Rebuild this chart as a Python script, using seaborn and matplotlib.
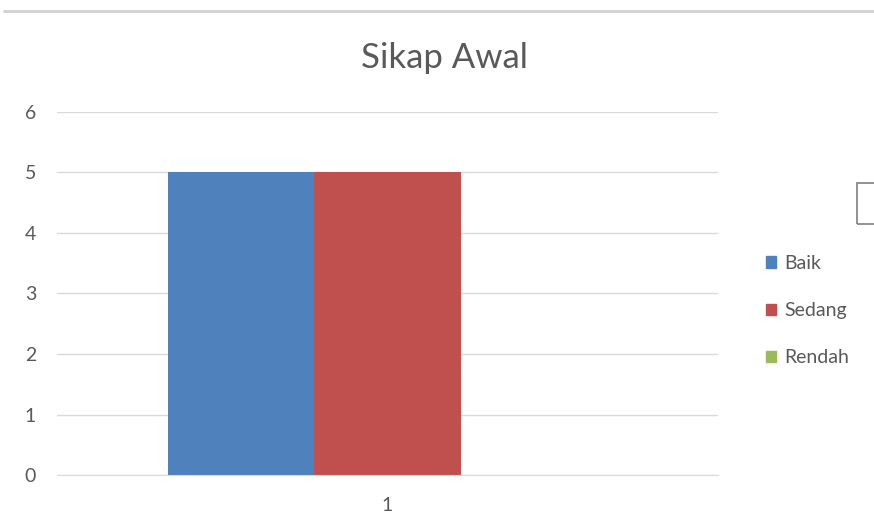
import matplotlib
matplotlib.use("Agg")
import matplotlib.pyplot as plt
import matplotlib.patches as mpatches
import matplotlib.lines as mlines
import numpy as np
import pandas as pd
import seaborn as sns

# data
categories = ["1"]
series = ["Baik", "Sedang", "Rendah"]
values = [5, 5, 0]
colors = ["#4F81BD", "#C0504D", "#9BBB59"]

df = pd.DataFrame({"kategori": categories * len(series),
                   "seri": series,
                   "nilai": values})

sns.set_style("white")
plt.rcParams['font.family'] = ['Lato', 'DejaVu Sans']
text_col = "#595959"

fig = plt.figure(figsize=(8.74, 5.18), dpi=100)
ax = fig.add_axes([0.0652, 0.083, 0.7563, 0.7008])

sns.barplot(data=df, x="kategori", y="nilai", hue="seri", palette=colors,
            width=0.663, gap=0, saturation=1, legend=False, linewidth=0, ax=ax)

ax.set_xlim(-0.5, 0.5)
ax.set_ylim(0, 6)
ax.set_yticks(range(0, 7))
ax.yaxis.grid(True, color="#D9D9D9", linewidth=1)
ax.set_axisbelow(True)
for s in ["top", "right", "left"]:
    ax.spines[s].set_visible(False)
ax.spines["bottom"].set_color("#D9D9D9")
ax.tick_params(axis="both", length=0, labelsize=14, colors=text_col)
ax.tick_params(axis="y", pad=15)
ax.tick_params(axis="x", pad=16)
ax.set_xlabel("")
ax.set_ylabel("")

fig.text(0.509, 0.888, "Sikap Awal", ha="center", va="center",
         fontsize=25, color=text_col)

handles = [mpatches.Patch(color=c, label=s) for c, s in zip(colors, series)]
leg = fig.legend(handles=handles, loc="center left", bbox_to_anchor=(0.876, 0.40),
                 frameon=False, fontsize=14, labelspacing=1.55,
                 handlelength=0.55, handleheight=0.55, handletextpad=0.4,
                 labelcolor=text_col, borderpad=0, borderaxespad=0)

# top border line and the clipped box at the right edge
fig.add_artist(mlines.Line2D([4 / 874, 1], [1 - 11 / 518, 1 - 11 / 518],
                             color="#D0D0D0", linewidth=2))
fig.add_artist(mpatches.Rectangle((857 / 874, 1 - 224 / 518), 0.05, 41 / 518,
                                  fill=False, edgecolor="#7F7F7F", linewidth=1.2))

fig.savefig("out.png", dpi=100)
